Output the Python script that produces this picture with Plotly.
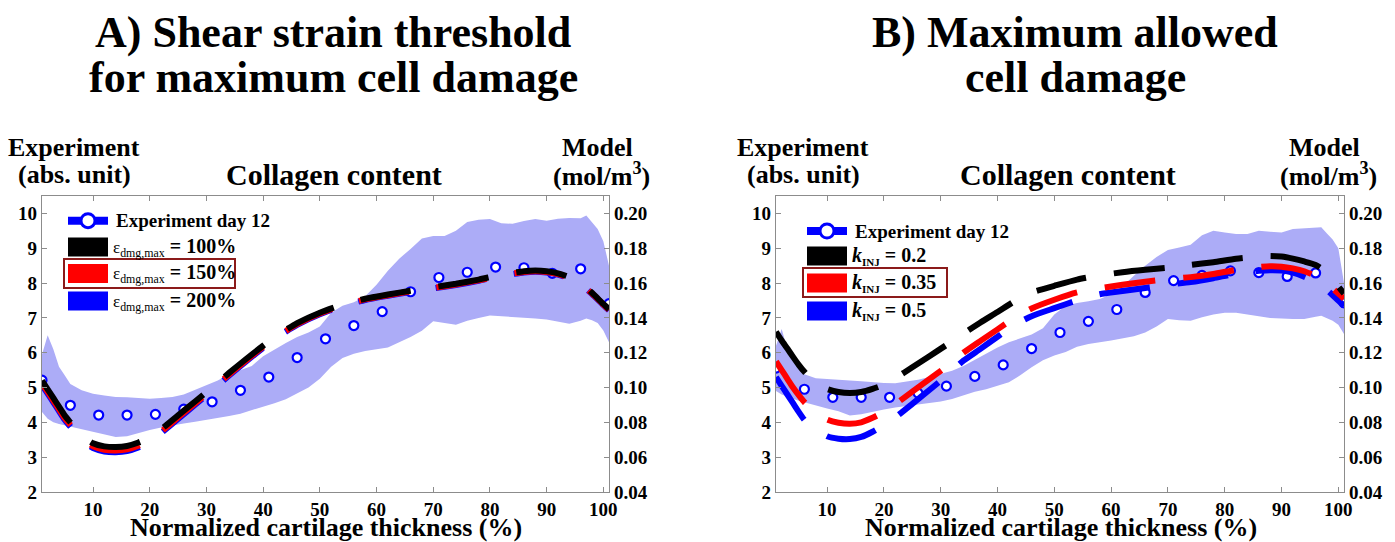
import plotly.graph_objects as go

# ---------------- data ----------------
x_exp = [1, 6, 11, 16, 21, 26, 31, 36, 41, 46, 51, 56, 61, 66, 71, 76, 81, 86, 91, 96, 101]
exp_A = [5.21, 4.49, 4.21, 4.21, 4.23, 4.38, 4.59, 4.92, 5.30, 5.86, 6.40, 6.78, 7.18, 7.75,
         8.16, 8.31, 8.46, 8.44, 8.28, 8.41, 7.41]
exp_B = [5.56, 4.95, 4.72, 4.72, 4.72, 4.84, 5.04, 5.32, 5.65, 6.12, 6.58, 6.90, 7.24, 7.73,
         8.07, 8.22, 8.35, 8.30, 8.19, 8.29, 7.43]

x_band = [1, 2, 3, 4, 5, 6, 8, 10, 12, 14, 16, 18, 20, 22, 24, 26, 28, 30, 32, 34, 36, 38, 40,
          42, 44, 46, 48, 50, 52, 54, 56, 58, 60, 62, 64, 66, 68, 70, 72, 74, 76, 78, 80, 82,
          84, 86, 88, 90, 92, 94, 96, 97, 98, 99, 100, 101]
upper_A = [5.95, 6.50, 6.10, 5.60, 5.35, 5.10, 4.92, 4.82, 4.77, 4.73, 4.72, 4.70, 4.68, 4.70,
           4.73, 4.80, 4.93, 5.07, 5.20, 5.38, 5.50, 5.62, 5.90, 6.10, 6.28, 6.45, 6.58, 6.75,
           7.15, 7.35, 7.45, 7.62, 7.95, 8.35, 8.70, 8.98, 9.28, 9.35, 9.35, 9.50, 9.75, 9.82,
           9.84, 9.72, 9.70, 9.78, 9.84, 9.79, 9.85, 9.87, 9.86, 9.94, 9.75, 9.55, 9.20, 8.50]
lower_A = [4.30, 4.10, 4.00, 3.95, 3.90, 3.87, 3.80, 3.72, 3.65, 3.58, 3.60, 3.68, 3.78, 3.85,
           3.92, 3.97, 4.02, 4.07, 4.12, 4.18, 4.25, 4.33, 4.45, 4.55, 4.66, 4.82, 5.00, 5.25,
           5.60, 5.85, 5.97, 6.05, 6.10, 6.15, 6.30, 6.45, 6.63, 6.90, 6.85, 6.80, 6.92, 7.00,
           7.07, 7.06, 7.04, 7.00, 6.98, 6.95, 6.90, 6.83, 6.92, 6.98, 6.93, 6.85, 6.64, 6.30]
upper_B = [6.20, 6.68, 6.10, 5.80, 5.55, 5.38, 5.27, 5.24, 5.22, 5.20, 5.18, 5.15, 5.13, 5.12,
           5.17, 5.22, 5.30, 5.38, 5.48, 5.62, 5.80, 5.97, 6.15, 6.30, 6.42, 6.52, 6.70, 7.10,
           7.35, 7.43, 7.48, 7.54, 7.68, 7.90, 8.21, 8.50, 8.75, 8.95, 9.02, 9.10, 9.37, 9.50,
           9.45, 9.41, 9.41, 9.50, 9.47, 9.45, 9.55, 9.57, 9.58, 9.60, 9.42, 9.25, 9.00, 8.00]
lower_B = [4.90, 4.80, 4.75, 4.68, 4.62, 4.58, 4.48, 4.40, 4.32, 4.20, 4.23, 4.30, 4.37, 4.43,
           4.48, 4.52, 4.56, 4.60, 4.67, 4.77, 4.88, 4.95, 5.05, 5.15, 5.35, 5.58, 5.78, 5.92,
           6.02, 6.17, 6.25, 6.30, 6.35, 6.40, 6.47, 6.58, 6.75, 6.97, 6.93, 6.92, 7.02, 7.10,
           7.15, 7.15, 7.11, 7.05, 7.00, 6.98, 6.97, 6.97, 7.03, 7.06, 7.00, 6.92, 6.80, 6.54]

x_model = [1, 2, 3, 4, 5, 6, 7, 8, 10, 12, 14, 16, 18, 20, 22, 25, 28, 31, 34, 37, 40, 43, 46,
           50, 54, 58, 62, 66, 70, 74, 78, 82, 86, 88, 90, 92, 94, 96, 98, 100, 101]
# Panel A model (mol/m3)
eps100 = [0.1040, 0.0990, 0.0940, 0.0890, 0.0840, 0.0800, 0.0760, 0.0724, 0.0680, 0.0662,
          0.0658, 0.0664, 0.0684, 0.0714, 0.0760, 0.0840, 0.0920, 0.1000, 0.1084, 0.1164,
          0.1240, 0.1310, 0.1370, 0.1430, 0.1476, 0.1510, 0.1534, 0.1556, 0.1576, 0.1596,
          0.1620, 0.1648, 0.1668, 0.1672, 0.1668, 0.1656, 0.1634, 0.1600, 0.1544, 0.1480, 0.1450]
eps150 = [0.1025, 0.0975, 0.0925, 0.0875, 0.0825, 0.0785, 0.0745, 0.0708, 0.0662, 0.0643,
          0.0639, 0.0645, 0.0666, 0.0698, 0.0746, 0.0828, 0.0908, 0.0990, 0.1075, 0.1156,
          0.1233, 0.1304, 0.1364, 0.1425, 0.1471, 0.1506, 0.1530, 0.1552, 0.1572, 0.1592,
          0.1616, 0.1644, 0.1664, 0.1668, 0.1664, 0.1652, 0.1630, 0.1596, 0.1540, 0.1476, 0.1446]
eps200 = [0.1015, 0.0965, 0.0915, 0.0865, 0.0815, 0.0775, 0.0735, 0.0698, 0.0652, 0.0633,
          0.0629, 0.0635, 0.0656, 0.0688, 0.0738, 0.0820, 0.0901, 0.0984, 0.1069, 0.1150,
          0.1228, 0.1300, 0.1360, 0.1421, 0.1468, 0.1503, 0.1527, 0.1549, 0.1569, 0.1589,
          0.1613, 0.1641, 0.1661, 0.1665, 0.1661, 0.1649, 0.1627, 0.1593, 0.1537, 0.1473, 0.1443]
# Panel B model (mol/m3)
k02 = [0.1320, 0.1270, 0.1224, 0.1176, 0.1130, 0.1090, 0.1056, 0.1030, 0.0992, 0.0974,
       0.0968, 0.0974, 0.0992, 0.1016, 0.1054, 0.1116, 0.1180, 0.1244, 0.1310, 0.1374,
       0.1434, 0.1496, 0.1546, 0.1584, 0.1620, 0.1644, 0.1662, 0.1676, 0.1688, 0.1704,
       0.1720, 0.1740, 0.1752, 0.1756, 0.1752, 0.1740, 0.1724, 0.1704, 0.1660, 0.1580, 0.1540]
k035 = [0.1150, 0.1100, 0.1050, 0.1000, 0.0956, 0.0916, 0.0886, 0.0860, 0.0816, 0.0798,
        0.0792, 0.0800, 0.0826, 0.0860, 0.0904, 0.0976, 0.1048, 0.1120, 0.1200, 0.1268,
        0.1334, 0.1400, 0.1454, 0.1504, 0.1546, 0.1570, 0.1590, 0.1608, 0.1622, 0.1634,
        0.1652, 0.1676, 0.1692, 0.1696, 0.1694, 0.1684, 0.1668, 0.1640, 0.1596, 0.1540, 0.1510]
k05 = [0.1060, 0.1010, 0.0960, 0.0910, 0.0860, 0.0814, 0.0784, 0.0760, 0.0720, 0.0706,
       0.0704, 0.0716, 0.0746, 0.0784, 0.0828, 0.0906, 0.0986, 0.1066, 0.1154, 0.1222,
       0.1292, 0.1360, 0.1410, 0.1456, 0.1500, 0.1536, 0.1554, 0.1572, 0.1590, 0.1606,
       0.1628, 0.1654, 0.1670, 0.1674, 0.1672, 0.1660, 0.1636, 0.1604, 0.1560, 0.1500, 0.1470]

left_ticks = [2, 3, 4, 5, 6, 7, 8, 9, 10]
right_ticks = [0.04, 0.06, 0.08, 0.10, 0.12, 0.14, 0.16, 0.18, 0.20]
x_ticks = [10, 20, 30, 40, 50, 60, 70, 80, 90, 100]

# ---------------- layout geometry ----------------
W, H = 1395, 542
ML, MR, MT, MB = 42, 51, 196, 50
PW = W - ML - MR
PH = H - MT - MB


def px(x):
    return (x - ML) / PW


def py(y):
    return (H - MB - y) / PH


FONT = "Liberation Serif"
BLUE = "#0000ff"
RED = "#ff0000"
BAND = "#acacf7"
AXC = "#8c8c8c"
DASH = "51px,28px"
LW = 6

fig = go.Figure()


def add_panel(xa, ya, ya2, exp, up, lo, models, colors):
    fig.add_trace(go.Scatter(x=x_band + x_band[::-1], y=up + lo[::-1], xaxis=xa, yaxis=ya,
                             fill="toself", fillcolor=BAND, line=dict(width=0),
                             mode="lines", hoverinfo="skip", showlegend=False))
    fig.add_trace(go.Scatter(x=x_exp, y=exp, xaxis=xa, yaxis=ya, mode="markers",
                             marker=dict(symbol="circle", size=9, color="white",
                                         line=dict(color=BLUE, width=2.2)),
                             showlegend=False))
    for m, c in zip(models, colors):
        fig.add_trace(go.Scatter(x=x_model, y=m, xaxis=xa, yaxis=ya2, mode="lines",
                                 line=dict(color=c, width=LW, dash=DASH, shape="spline",
                                           smoothing=0.6),
                                 showlegend=False))


add_panel("x", "y", "y2", exp_A, upper_A, lower_A, [eps200, eps150, eps100], [BLUE, RED, "black"])
add_panel("x2", "y3", "y4", exp_B, upper_B, lower_B, [k05, k035, k02], [BLUE, RED, "black"])

tickfont = dict(family=FONT, size=19, color="black", weight="bold")
xcommon = dict(range=[1, 101], tickvals=x_ticks, showline=True, linecolor=AXC, linewidth=1.3,
               mirror="ticks", ticks="inside", ticklen=5, tickcolor=AXC, showgrid=False,
               zeroline=False, tickfont=tickfont)
ycommon = dict(range=[2, 10.5], tickvals=left_ticks, showline=True, linecolor=AXC,
               linewidth=1.3, ticks="inside", ticklen=5, tickcolor=AXC, showgrid=False,
               zeroline=False, tickfont=tickfont)
y2common = dict(range=[0.04, 0.21], tickvals=right_ticks, tickformat=".2f", side="right",
                showline=True, linecolor=AXC, linewidth=1.3, ticks="inside", ticklen=5,
                tickcolor=AXC, showgrid=False, zeroline=False, tickfont=tickfont)

dA = [0, px(609)]
dB = [px(776), 1]
fig.update_layout(
    width=W, height=H, margin=dict(l=ML, r=MR, t=MT, b=MB),
    paper_bgcolor="white", plot_bgcolor="white", showlegend=False,
    xaxis=dict(domain=dA, anchor="y", **xcommon),
    yaxis=dict(domain=[0, 1], anchor="x", **ycommon),
    yaxis2=dict(overlaying="y", anchor="x", **y2common),
    xaxis2=dict(domain=dB, anchor="y3", **xcommon),
    yaxis3=dict(domain=[0, 1], anchor="x2", **ycommon),
    yaxis4=dict(overlaying="y3", anchor="x2", **y2common),
)

ann = []
shapes = []


def text(x, y, s, size, anchor="center"):
    ann.append(dict(x=px(x), y=py(y), xref="paper", yref="paper", text=s, showarrow=False,
                    xanchor=anchor, yanchor="middle",
                    font=dict(family=FONT, size=size, color="black", weight="bold")))


# titles
text(333, 32, "A) Shear strain threshold", 44)
text(333, 78, "for maximum cell damage", 44)
text(1075, 32, "B) Maximum allowed", 44)
text(1075, 78, "cell damage", 44)

# axis header labels
for cx_exp, cx_col, cx_mod in [(74, 334, 597), (803, 1068, 1324)]:
    text(cx_exp, 147, "Experiment", 26)
    text(cx_exp, 174, "(abs. unit)", 26)
    text(cx_col, 175, "Collagen content", 30)
    text(cx_mod, 147, "Model", 26)
    text(cx_mod + 4, 175, "(mol/m<sup>3</sup>)", 26)

# x-axis titles
text(326, 527, "Normalized cartilage thickness (%)", 26)
text(1061, 527, "Normalized cartilage thickness (%)", 26)


def rect(x0, x1, y0, y1, fill=None, line=None, lw=0):
    shapes.append(dict(type="rect", xref="paper", yref="paper", x0=px(x0), x1=px(x1),
                       y0=py(y1), y1=py(y0), fillcolor=fill,
                       line=dict(color=line if line else "rgba(0,0,0,0)", width=lw)))


def legend(lx, rows, labels, frame):
    r0 = rows[0]
    shapes.append(dict(type="line", xref="paper", yref="paper", x0=px(lx), x1=px(lx + 40),
                       y0=py(r0), y1=py(r0), line=dict(color=BLUE, width=8)))
    cx, r = lx + 20, 7
    shapes.append(dict(type="circle", xref="paper", yref="paper", x0=px(cx - r), x1=px(cx + r),
                       y0=py(r0 + r), y1=py(r0 - r), fillcolor="white",
                       line=dict(color=BLUE, width=3)))
    text(lx + 46, r0, "Experiment day 12", 19, "left")
    for yc, col, lab in zip(rows[1:], ["black", RED, BLUE], labels):
        rect(lx, lx + 40, yc - 9.5, yc + 9.5, fill=col)
        text(lx + 43, yc, lab, 20, "left")
    rect(frame[0], frame[1], frame[2], frame[3], line="#8b1a1a", lw=2)


eps_lab = "<span style='font-size:17px;font-weight:normal'>ε<sub>dmg,max</sub></span> = {}"
legend(68, [220.7, 247, 273.5, 301],
       [eps_lab.format("100%"), eps_lab.format("150%"), eps_lab.format("200%")],
       (64, 235, 259, 288))
k_lab = "<i>k</i><sub><span style='font-size:11px'>INJ</span></sub> = {}"
legend(807, [231, 256, 283, 311],
       [k_lab.format("0.2"), k_lab.format("0.35"), k_lab.format("0.5")],
       (803, 947, 268, 297))

fig.update_layout(annotations=ann, shapes=shapes)
fig.write_html("out.html")
